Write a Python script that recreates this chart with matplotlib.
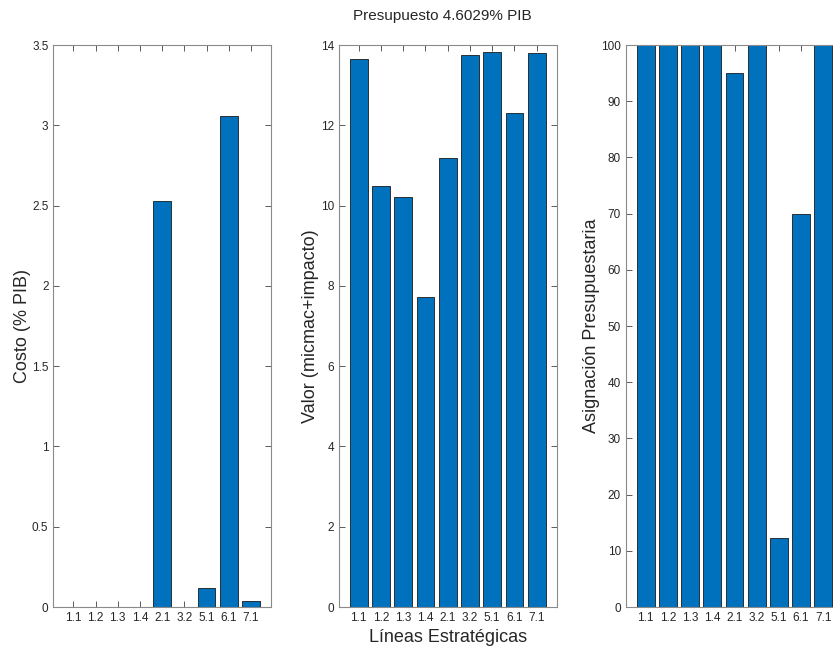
import matplotlib
matplotlib.use("Agg")
import matplotlib.pyplot as plt
import numpy as np

categories = ["1.1", "1.2", "1.3", "1.4", "2.1", "3.2", "5.1", "6.1", "7.1"]
costo = [0.003, 0.003, 0.003, 0.003, 2.53, 0.003, 0.118, 3.058, 0.035]
valor = [13.65, 10.48, 10.22, 7.73, 11.19, 13.75, 13.82, 12.30, 13.79]
asignacion = [100, 100, 100, 100, 95.0, 100, 12.3, 70.0, 100]

plt.rcParams['font.family'] = ['Liberation Sans', 'DejaVu Sans']

fig = plt.figure(figsize=(8.33, 6.48), dpi=100)
bar_color = "#0072BD"
spine_color = "#8a8a8a"
text_color = "#262626"

W, H = 833, 648
def make_ax(x0, x1, y0, y1):
    return fig.add_axes([x0 / W, 1 - y1 / H, (x1 - x0) / W, (y1 - y0) / H])

specs = [
    (53.3, 271.0, costo, (0, 3.5), np.arange(0, 3.51, 0.5), "Costo (% PIB)", ["0", "0.5", "1", "1.5", "2", "2.5", "3", "3.5"]),
    (338.7, 556.7, valor, (0, 14), np.arange(0, 14.1, 2), "Valor (micmac+impacto)", None),
    (625.7, 843.3, asignacion, (0, 100), np.arange(0, 101, 10), "Asignación Presupuestaria", None),
]

axes = []
for x0, x1, vals, ylim, yt, ylab, ytl in specs:
    ax = make_ax(x0, x1, 45, 607)
    x = np.arange(1, len(categories) + 1)
    ax.bar(x, vals, width=0.8, color=bar_color, edgecolor="#1a1a1a", linewidth=0.6, zorder=2)
    ax.set_xlim(0.1, 9.9)
    ax.set_ylim(*ylim)
    ax.set_xticks(x)
    ax.set_xticklabels(categories)
    ax.set_yticks(yt)
    if ytl:
        ax.set_yticklabels(ytl)
    ax.tick_params(direction="in", top=True, right=True, length=4, width=0.6,
                   colors=text_color, labelsize=8.5, pad=3.5)
    ax.tick_params(axis="both", color="#404040")
    for s in ax.spines.values():
        s.set_color(spine_color)
        s.set_linewidth(0.8)
    ax.set_ylabel(ylab, fontsize=13, color=text_color, labelpad=1)
    axes.append(ax)

axes[1].set_xlabel("Líneas Estratégicas", fontsize=13, color=text_color, labelpad=4)
fig.text(442 / W, 1 - 16 / H, "Presupuesto 4.6029% PIB", ha="center", va="center",
         fontsize=11, color=text_color)

fig.savefig("out.png", dpi=100)
